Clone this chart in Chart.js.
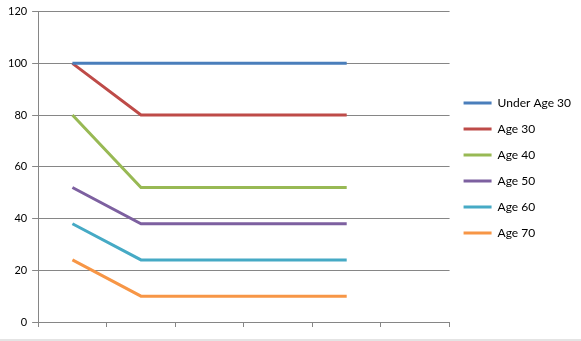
<!DOCTYPE html>
<html>
<head>
<meta charset="utf-8">
<script src="https://cdn.jsdelivr.net/npm/chart.js@4/dist/chart.umd.min.js"></script>
<style>
  html, body { margin: 0; padding: 0; background: #fff; }
  #wrap { width: 581px; height: 339px; border-bottom: 2px solid #e4e4e4; }
</style>
</head>
<body>
<div id="wrap"><canvas id="chart" width="581" height="339"></canvas></div>
<script>
var categories = ['1', '2', '3', '4', '5', '6'];
var seriesNames = ['Under Age 30', 'Age 30', 'Age 40', 'Age 50', 'Age 60', 'Age 70'];
var underAge30 = [100, 100, 100, 100, 100, null];
var age30 = [100, 80, 80, 80, 80, null];
var age40 = [80, 52, 52, 52, 52, null];
var age50 = [52, 38, 38, 38, 38, null];
var age60 = [38, 24, 24, 24, 24, null];
var age70 = [24, 10, 10, 10, 10, null];
var colors = ['#4A7EBB', '#BE4B48', '#98B954', '#7D60A0', '#46AAC5', '#F79646'];

var values = [underAge30, age30, age40, age50, age60, age70];
var datasets = values.map(function (v, i) {
    return {
        label: seriesNames[i],
        data: v,
        borderColor: colors[i],
        backgroundColor: colors[i],
        borderWidth: 3,
        pointRadius: 0,
        tension: 0,
        fill: false
    };
});

var ctx = document.getElementById('chart').getContext('2d');
new Chart(ctx, {
    type: 'line',
    data: { labels: categories, datasets: datasets },
    options: {
        responsive: false,
        animation: false,
        layout: { padding: { top: 9, right: 0, bottom: 12, left: 3 } },
        plugins: {
            tooltip: { enabled: false },
            legend: {
                position: 'right',
                labels: {
                    font: { family: 'Lato', size: 12 },
                    color: '#000',
                    boxWidth: 28,
                    boxHeight: 3,
                    padding: 14,
                    generateLabels: function (chart) {
                        return Chart.defaults.plugins.legend.labels.generateLabels(chart).map(function (l) {
                            l.lineWidth = 0;
                            return l;
                        });
                    }
                }
            }
        },
        scales: {
            x: {
                offset: true,
                grid: { offset: true, drawOnChartArea: false, drawTicks: true, tickLength: 5, color: '#868686' },
                border: { color: '#868686' },
                ticks: { display: false }
            },
            y: {
                min: 0,
                max: 120,
                ticks: { stepSize: 20, padding: 5, color: '#000', font: { family: 'Lato', size: 11 } },
                grid: { color: '#868686', tickLength: 6 },
                border: { color: '#868686' }
            }
        }
    }
});
</script>
</body>
</html>
